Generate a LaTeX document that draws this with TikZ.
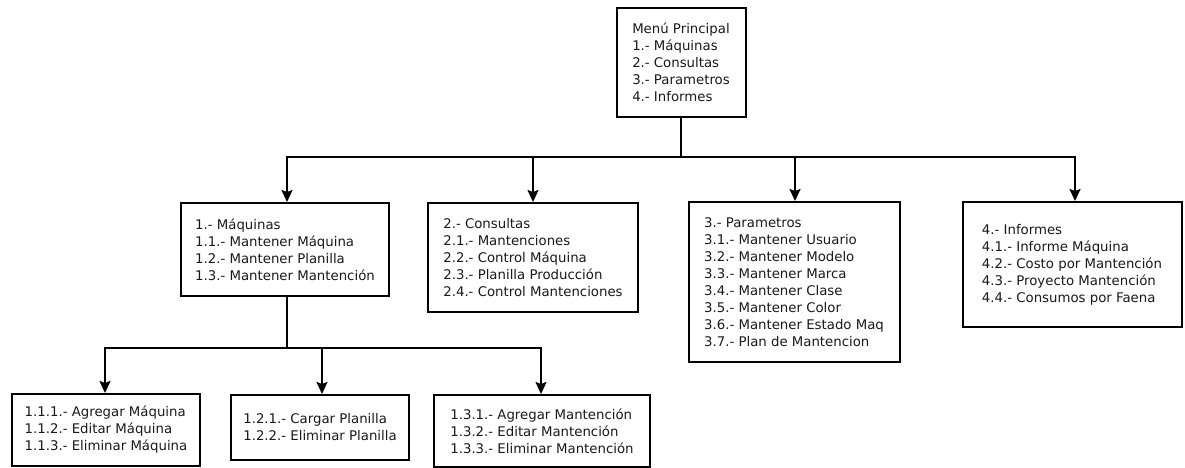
\documentclass[tikz,border=0pt]{standalone}
\usepackage{fontspec}
\setmainfont{DejaVu Sans}
\usetikzlibrary{arrows.meta}
\definecolor{ink}{HTML}{1A1A1A}
\tikzset{
  menubox/.style={draw=black, line width=2pt, fill=white, text=ink,
    inner sep=0pt, align=left,
    font=\fontsize{13.3pt}{17pt}\selectfont},
  link/.style={draw=black, line width=2pt},
  arrowlink/.style={link, -{Stealth[length=12pt,width=11pt,inset=2pt]}}
}
\begin{document}
\begin{tikzpicture}[x=1pt,y=1pt]
  \useasboundingbox (0,0) rectangle (1185,-468);
  \fill[white] (0,0) rectangle (1185,-468);

  % main menu
  \node[menubox, minimum width=129pt, minimum height=109pt] (menu) at (681,-62.5)
    {Menú Principal\\ 1.- Máquinas\\ 2.- Consultas\\ 3.- Parametros\\ 4.- Informes};

  % first level
  \node[menubox, minimum width=208pt, minimum height=93pt] (maq) at (285,-249.5)
    {1.- Máquinas\\1.1.- Mantener Máquina\\1.2.- Mantener Planilla\\1.3.- Mantener Mantención};
  \node[menubox, minimum width=210pt, minimum height=109pt] (con) at (533,-257.5)
    {2.- Consultas\\2.1.- Mantenciones\\2.2.- Control Máquina\\2.3.- Planilla Producción\\2.4.- Control Mantenciones};
  \node[menubox, minimum width=211pt, minimum height=160pt] (par) at (794,-282)
    {3.- Parametros\\3.1.- Mantener Usuario\\3.2.- Mantener Modelo\\3.3.- Mantener Marca\\3.4.- Mantener Clase\\3.5.- Mantener Color\\3.6.- Mantener Estado Maq\\3.7.- Plan de Mantencion};
  \node[menubox, minimum width=219pt, minimum height=125pt] (inf) at (1072,-264.5)
    {4.- Informes\\4.1.- Informe Máquina\\4.2.- Costo por Mantención\\4.3.- Proyecto Mantención\\4.4.- Consumos por Faena};

  % second level under 1.- Máquinas
  \node[menubox, minimum width=188pt, minimum height=72pt] (agr) at (106,-430)
    {1.1.1.- Agregar Máquina\\1.1.2.- Editar Máquina\\1.1.3.- Eliminar Máquina};
  \node[menubox, minimum width=178pt, minimum height=65pt] (pla) at (320,-427.5)
    {1.2.1.- Cargar Planilla\\1.2.2.- Eliminar Planilla};
  \node[menubox, minimum width=216pt, minimum height=72pt] (man) at (542,-431)
    {1.3.1.- Agregar Mantención\\1.3.2.- Editar Mantención\\1.3.3.- Eliminar Mantención};

  % upper bus
  \coordinate (busA) at (681,-157);
  \coordinate (busAL) at (287,-157);
  \coordinate (busA2) at (533,-157);
  \coordinate (busA3) at (795,-157);
  \coordinate (busAR) at (1075,-157);
  \draw[link] (menu.south) -- (busA);
  \draw[link, line cap=rect] (busAL) -- (busAR);
  \draw[arrowlink] (busAL) -- (busAL |- maq.north);
  \draw[arrowlink] (busA2) -- (busA2 |- con.north);
  \draw[arrowlink] (busA3) -- (busA3 |- par.north);
  \draw[arrowlink] (busAR) -- (busAR |- inf.north);

  % lower bus
  \coordinate (busB) at (287,-348);
  \coordinate (busBL) at (105,-348);
  \coordinate (busBM) at (322,-348);
  \coordinate (busBR) at (541,-348);
  \draw[link] (busB |- maq.south) -- (busB);
  \draw[link, line cap=rect] (busBL) -- (busBR);
  \draw[arrowlink] (busBL) -- (busBL |- agr.north);
  \draw[arrowlink] (busBM) -- (busBM |- pla.north);
  \draw[arrowlink] (busBR) -- (busBR |- man.north);
\end{tikzpicture}
\end{document}
